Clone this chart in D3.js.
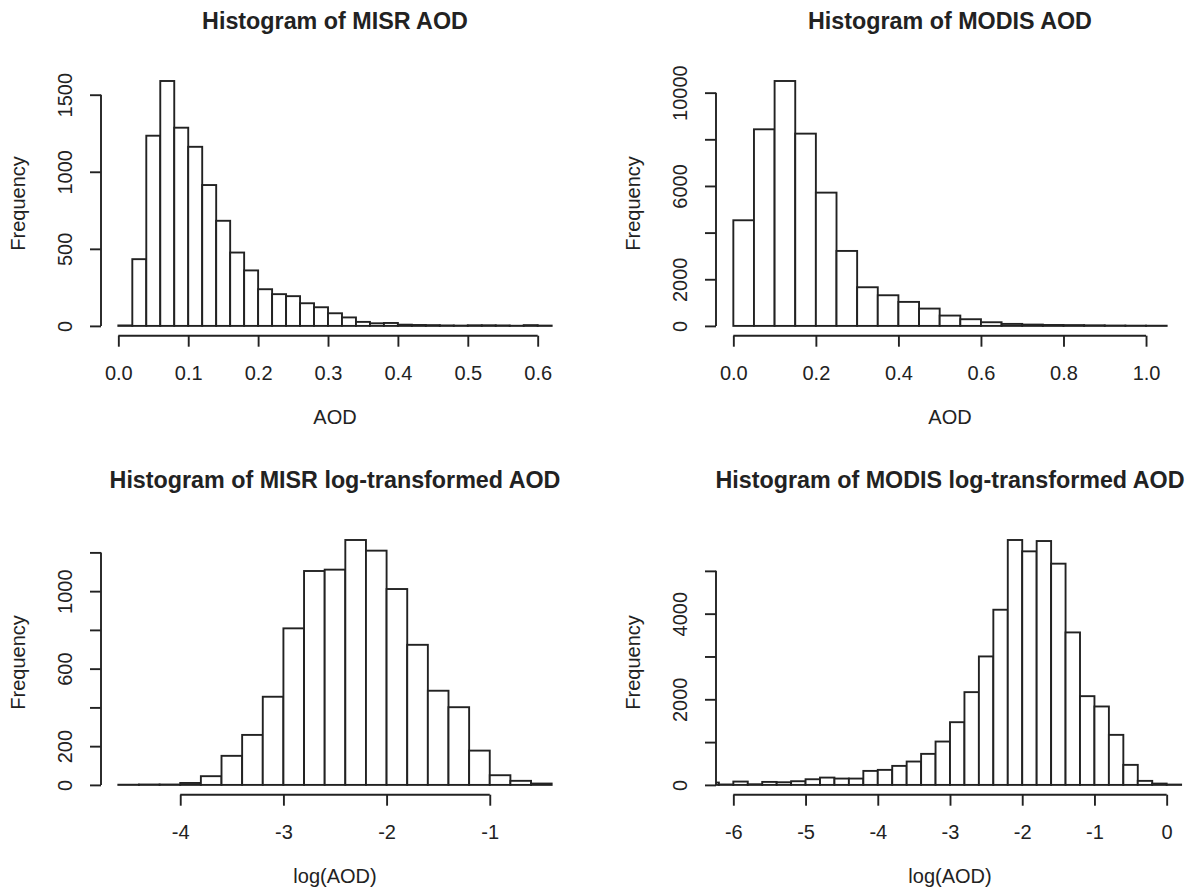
<!DOCTYPE html>
<html>
<head>
<meta charset="utf-8">
<script src="https://cdn.jsdelivr.net/npm/d3@7"></script>
<style>
  body { margin: 0; background: #fff; }
  svg text { font-family: "Liberation Sans", Arial, Helvetica, sans-serif; fill: #222; }
</style>
</head>
<body>
<script>
// histogram counts (one value per bin)
var misrAodCounts = [3, 433, 1234, 1589, 1286, 1162, 914, 682, 476, 360,
                     238, 206, 193, 147, 121, 82, 55, 26, 17, 19,
                     8, 6, 5, 3, 2, 4, 4, 3, 1, 5, 2];
var modisAodCounts = [4529, 8429, 10500, 8243, 5714, 3214, 1657, 1314, 1029, 743,
                      443, 286, 157, 86, 57, 40, 35, 25, 15, 10, 8];
var misrLogCounts = [1, 2, 2, 10, 45, 150, 258, 455, 808, 1104, 1111,
                     1264, 1209, 1011, 723, 486, 401, 177, 50, 21, 7];
var modisLogCounts = [55, 10, 78, 15, 70, 62, 86, 132, 171, 148,
                      148, 327, 351, 444, 546, 725, 1013, 1465, 2167, 3001,
                      4092, 5721, 5456, 5697, 5168, 3562, 2073, 1832, 1169, 468,
                      94, 31, 8];

// first break and bin width of each histogram
var misrAodBins = [0, 0.02];
var modisAodBins = [0, 0.05];
var misrLogBins = [-4.6, 0.2];
var modisLogBins = [-6.4, 0.2];

// x limits
var misrAodXlim = [0, 0.62];
var modisAodXlim = [0, 1.05];
var misrLogXlim = [-4.6, -0.4];
var modisLogXlim = [-6, 0];

// tick values
var misrAodXTicks = [0, 0.1, 0.2, 0.3, 0.4, 0.5, 0.6];
var modisAodXTicks = [0, 0.2, 0.4, 0.6, 0.8, 1.0];
var misrLogXTicks = [-4, -3, -2, -1];
var modisLogXTicks = [-6, -5, -4, -3, -2, -1, 0];

var misrAodYTicks = [0, 500, 1000, 1500];
var modisAodYTicks = [0, 2000, 4000, 6000, 8000, 10000];
var misrLogYTicks = [0, 200, 400, 600, 800, 1000, 1200];
var modisLogYTicks = [0, 1000, 2000, 3000, 4000, 5000];

// which y ticks get a label (R drops the ones that would overlap)
var misrAodYLabels = [0, 500, 1000, 1500];
var modisAodYLabels = [0, 2000, 6000, 10000];
var misrLogYLabels = [0, 200, 600, 1000];
var modisLogYLabels = [0, 2000, 4000];

var titles = ["Histogram of MISR AOD", "Histogram of MODIS AOD",
              "Histogram of MISR log-transformed AOD", "Histogram of MODIS log-transformed AOD"];
var xLabels = ["AOD", "AOD", "log(AOD)", "log(AOD)"];

var W = 1189, H = 888;
var plotW = 468, plotH = 264.5;
var svg = d3.select("body").append("svg")
    .attr("width", W)
    .attr("height", H);

// R prints a plain hyphen for negative numbers
var oneDec = function(v){ return d3.format(".1f")(v).replace("\u2212", "-"); };
var integer = function(v){ return d3.format("d")(v).replace("\u2212", "-"); };

var panels = [
  {left: 101, top: 71.2, counts: misrAodCounts, bins: misrAodBins, xlim: misrAodXlim,
   xt: misrAodXTicks, yt: misrAodYTicks, yl: misrAodYLabels, fmt: oneDec},
  {left: 716, top: 71.2, counts: modisAodCounts, bins: modisAodBins, xlim: modisAodXlim,
   xt: modisAodXTicks, yt: modisAodYTicks, yl: modisAodYLabels, fmt: oneDec},
  {left: 101, top: 530.2, counts: misrLogCounts, bins: misrLogBins, xlim: misrLogXlim,
   xt: misrLogXTicks, yt: misrLogYTicks, yl: misrLogYLabels, fmt: integer},
  {left: 716, top: 530.2, counts: modisLogCounts, bins: modisLogBins, xlim: modisLogXlim,
   xt: modisLogXTicks, yt: modisLogYTicks, yl: modisLogYLabels, fmt: integer}
];

panels.forEach(function(p, k){
  var r = p.xlim[1] - p.xlim[0];
  var x = d3.scaleLinear()
      .domain([p.xlim[0] - 0.04 * r, p.xlim[1] + 0.04 * r])
      .range([p.left, p.left + plotW]);
  var M = d3.max(p.counts);
  var y = d3.scaleLinear()
      .domain([-0.04 * M, 1.04 * M])
      .range([p.top + plotH, p.top]);

  // clip bars to the plot region like R does
  svg.append("clipPath").attr("id", "clip" + k)
    .append("rect")
      .attr("x", p.left).attr("y", p.top)
      .attr("width", plotW).attr("height", plotH);

  var bars = p.counts.map(function(c, i){
    return {x0: p.bins[0] + i * p.bins[1], x1: p.bins[0] + (i + 1) * p.bins[1], n: c};
  });

  svg.append("g")
      .attr("clip-path", "url(#clip" + k + ")")
    .selectAll("rect")
    .data(bars)
    .enter()
    .append("rect")
      .attr("x", function(d){ return x(d.x0); })
      .attr("width", function(d){ return x(d.x1) - x(d.x0); })
      .attr("y", function(d){ return y(d.n); })
      .attr("height", function(d){ return y(0) - y(d.n); })
      .style("fill", "#fff")
      .style("stroke", "#222")
      .style("stroke-width", 1.9);

  // x axis: line only between first and last tick
  var xAxis = d3.axisBottom(x)
      .tickValues(p.xt)
      .tickFormat(p.fmt)
      .tickSize(11)
      .tickPadding(19)
      .tickSizeOuter(0);
  var gx = svg.append("g")
      .attr("transform", "translate(0," + (p.top + plotH) + ")")
      .call(xAxis);
  gx.select(".domain")
      .attr("d", "M" + x(p.xt[0]) + ",0H" + x(p.xt[p.xt.length - 1]));
  gx.selectAll("path, line").style("stroke", "#222").style("stroke-width", 1.9);
  gx.selectAll("text").style("font-size", "20px").style("fill", "#222")
      .style("font-family", "'Liberation Sans', Arial, sans-serif");

  // y axis with rotated labels
  var yAxis = d3.axisLeft(y)
      .tickValues(p.yt)
      .tickFormat(function(v){ return p.yl.indexOf(v) >= 0 ? v : ""; })
      .tickSize(11)
      .tickSizeOuter(0);
  var gy = svg.append("g")
      .attr("transform", "translate(" + p.left + ",0)")
      .call(yAxis);
  gy.select(".domain")
      .attr("d", "M0," + y(p.yt[0]) + "V" + y(p.yt[p.yt.length - 1]));
  gy.selectAll("path, line").style("stroke", "#222").style("stroke-width", 1.9);
  gy.selectAll("text")
      .attr("x", null).attr("dy", null)
      .attr("transform", "translate(-29,0) rotate(-90)")
      .attr("text-anchor", "middle")
      .style("font-size", "20px").style("fill", "#222")
      .style("font-family", "'Liberation Sans', Arial, sans-serif");

  // title and axis titles
  svg.append("text")
      .attr("x", p.left + plotW / 2)
      .attr("y", p.top - 42)
      .attr("text-anchor", "middle")
      .style("font-size", "23.3px")
      .style("font-weight", "bold")
      .text(titles[k]);

  svg.append("text")
      .attr("x", p.left + plotW / 2)
      .attr("y", p.top + plotH + 88)
      .attr("text-anchor", "middle")
      .style("font-size", "20px")
      .text(xLabels[k]);

  svg.append("text")
      .attr("transform", "translate(" + (p.left - 76) + "," + (p.top + plotH / 2) + ") rotate(-90)")
      .attr("text-anchor", "middle")
      .style("font-size", "20px")
      .text("Frequency");
});
</script>
</body>
</html>
